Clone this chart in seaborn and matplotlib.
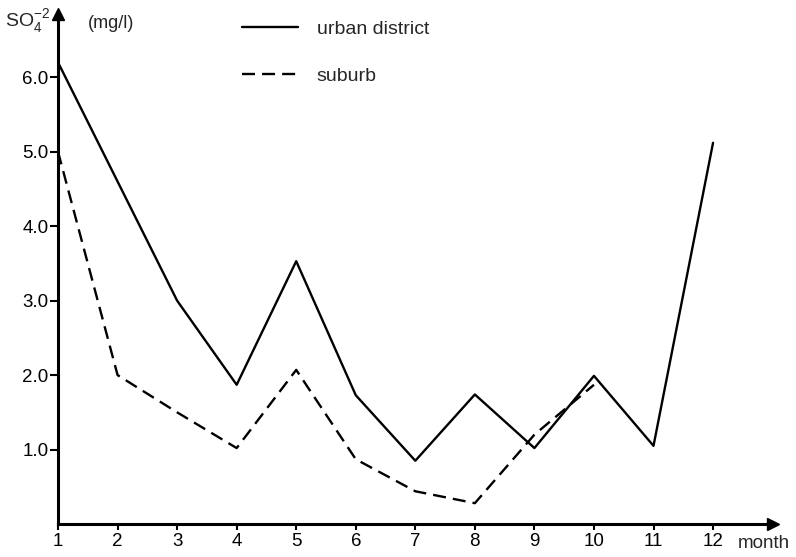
import numpy as np
import pandas as pd
import matplotlib.pyplot as plt
import seaborn as sns

months = list(range(1, 13))
urban = [6.2, 4.6, 3.0, 1.87, 3.53, 1.73, 0.85, 1.74, 1.02, 1.99, 1.05, 5.12]
suburb = [5.0, 2.0, 1.5, 1.02, 2.07, 0.87, 0.44, 0.28, 1.2, 1.87, np.nan, np.nan]
series_names = ['urban district', 'suburb']
y_ticks = [1, 2, 3, 4, 5, 6]
y_tick_labels = ['1.0', '2.0', '3.0', '4.0', '5.0', '6.0']

sns.set_style('ticks')
plt.rcParams['font.family'] = ['Liberation Sans', 'DejaVu Sans']

df = pd.DataFrame({
    'month': months * 2,
    'so4': urban + suburb,
    'area': [series_names[0]] * 12 + [series_names[1]] * 12,
}).dropna()

fig = plt.figure(figsize=(7.96, 5.57), dpi=100)
ax = fig.add_axes([0.0729, 0.0592, 0.8977, 0.9157])

sns.lineplot(data=df, x='month', y='so4', style='area', style_order=series_names,
             dashes={'urban district': '', 'suburb': (5.5, 3)},
             color='black', linewidth=1.7, estimator=None, ax=ax)

ax.set_xlim(1, 13)
ax.set_ylim(0, 6.85)
ax.set_xticks(months)
ax.set_xticklabels([str(m) for m in months])
ax.set_yticks(y_ticks)
ax.set_yticklabels(y_tick_labels)
ax.set_xlabel('')
ax.set_ylabel('')
sns.despine(ax=ax)
for s in ['left', 'bottom']:
    ax.spines[s].set_linewidth(2.2)
    ax.spines[s].set_color('black')
ax.tick_params(axis='x', direction='out', length=4.5, width=1.5, pad=2, labelsize=13.5, colors='black')
ax.tick_params(axis='y', direction='out', length=6, width=1.5, pad=1, labelsize=13.5, colors='black')

# arrow heads at the end of the axes
ax.plot(1, 0, '>k', ms=8, transform=ax.transAxes, clip_on=False)
ax.plot(0, 1, '^k', ms=8, transform=ax.transAxes, clip_on=False)

handles, labels = ax.get_legend_handles_labels()
ax.legend(handles, labels, loc='upper left', bbox_to_anchor=(0.304, 0.963),
          bbox_transform=fig.transFigure, frameon=False, fontsize=14,
          handlelength=2.9, handletextpad=0.95, labelspacing=1.5,
          borderpad=0, borderaxespad=0)

fig.text(5 / 796, 1 - 28 / 557, r'SO$_\mathregular{4}^\mathregular{-2}$', fontsize=14, va='baseline')
fig.text(88 / 796, 1 - 28 / 557, '(mg/l)', fontsize=13, va='baseline')
fig.text(738 / 796, 1 - 548 / 557, 'month', fontsize=13.5, va='baseline')

plt.savefig('out.png', dpi=100)
